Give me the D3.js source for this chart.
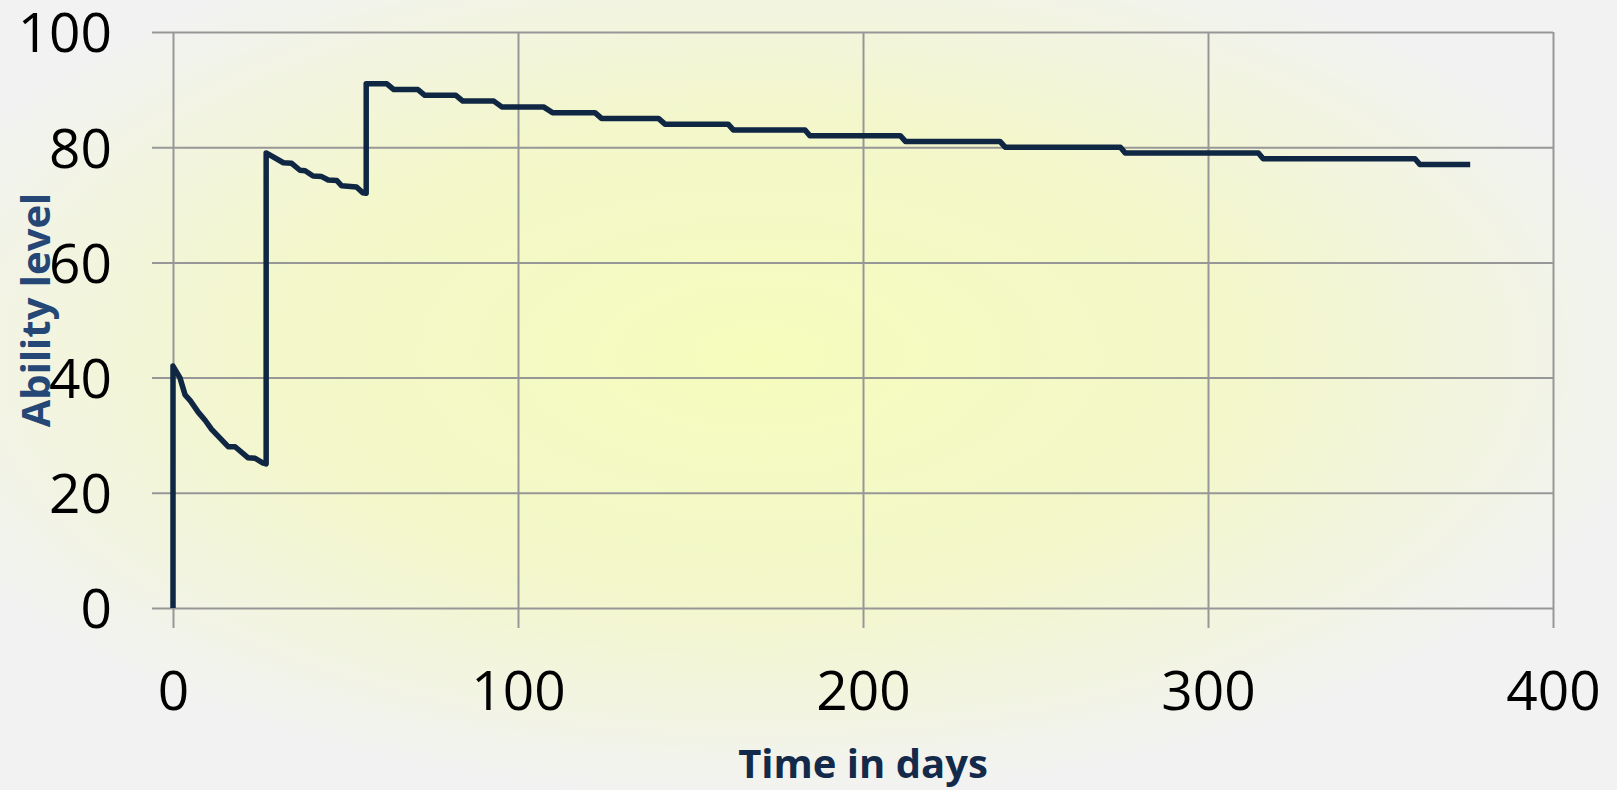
<!DOCTYPE html>
<html>
<head>
<meta charset="utf-8">
<script src="https://cdn.jsdelivr.net/npm/d3@7"></script>
<style>
  html, body { margin: 0; padding: 0; background: #f2f2f2; }
  svg { display: block; }
</style>
</head>
<body>
<div id="chart"></div>
<script>
// Data
const days = [0, 0, 2, 3.5, 5, 7.3, 9.3, 11.2, 16, 18, 21.7, 23.8, 26, 27,
  27, 32, 34.4, 36.8, 38.3, 40.6, 43.1, 45, 47.5, 48.9, 53.2, 55, 56,
  56, 62, 64, 71, 73, 82, 84, 93, 95.3, 107.4, 110, 122.3, 124.2, 140.7, 142.6,
  160.9, 162.4, 183.2, 184.6, 210.8, 212.3, 239.7, 241.2, 274.6, 276,
  314.6, 316, 360, 361.4, 376];
const ability = [0, 42, 40, 37, 36, 34, 32.6, 31, 28, 28, 26.1, 26, 25.2, 25,
  79, 77.3, 77.2, 76, 75.9, 75, 74.9, 74.3, 74.2, 73.3, 73.1, 72.1, 72,
  91, 91, 90, 90, 89, 89, 88, 88, 87, 87, 86, 86, 85, 85, 84,
  84, 83, 83, 82, 82, 81, 81, 80, 80, 79,
  79, 78, 78, 77, 77];
const xTicks = [0, 100, 200, 300, 400];
const yTicks = [0, 20, 40, 60, 80, 100];

const points = days.map((d, i) => ({day: d, value: ability[i]}));

const W = 1617, H = 790;
const margin = {top: 32, right: 64, bottom: 182, left: 173};
const width = W - margin.left - margin.right,
      height = H - margin.top - margin.bottom;

const svg = d3.select("#chart")
  .append("svg")
    .attr("width", W)
    .attr("height", H);

// Background radial gradient
const grad = svg.append("defs").append("radialGradient")
    .attr("id", "bg")
    .attr("cx", 0.47).attr("cy", 0.45).attr("r", 0.56);
grad.append("stop").attr("offset", "0%").attr("stop-color", "#f5fcbc");
grad.append("stop").attr("offset", "55%").attr("stop-color", "#f3f7cb");
grad.append("stop").attr("offset", "100%").attr("stop-color", "#f2f2f2");

svg.append("rect")
    .attr("width", W).attr("height", H)
    .attr("fill", "url(#bg)");

const g = svg.append("g")
    .attr("transform", `translate(${margin.left},${margin.top})`);

const x = d3.scaleLinear().domain([0, 400]).range([0, width]);
const y = d3.scaleLinear().domain([0, 100]).range([height, 0]);

// Axis titles (drawn first so tick labels sit on top)
g.append("text")
    .attr("text-anchor", "middle")
    .attr("transform", "rotate(-90)")
    .attr("x", -(310 - margin.top))
    .attr("y", 50 - margin.left)
    .style("font-family", "'Open Sans', sans-serif")
    .style("font-weight", "bold")
    .style("font-size", "40px")
    .attr("fill", "#254775")
    .text("Ability level");

g.append("text")
    .attr("text-anchor", "middle")
    .attr("x", width / 2)
    .attr("y", 778 - margin.top)
    .style("font-family", "'Open Sans', sans-serif")
    .style("font-weight", "bold")
    .style("font-size", "40px")
    .attr("fill", "#132a4b")
    .text("Time in days");

// Horizontal gridlines + y ticks
const yAxis = g.append("g")
    .call(d3.axisLeft(y).tickValues(yTicks).tickSizeOuter(0));
yAxis.select(".domain").remove();
yAxis.selectAll(".tick line")
    .attr("x1", -21).attr("x2", width)
    .attr("stroke", "#979797").attr("stroke-width", 2);
yAxis.selectAll(".tick text")
    .attr("x", -61)
    .attr("dy", "0.36em")
    .style("font-family", "'Open Sans', sans-serif")
    .style("font-size", "55px")
    .attr("fill", "#000");

// Vertical gridlines + x ticks
const xAxis = g.append("g")
    .attr("transform", `translate(0,${height})`)
    .call(d3.axisBottom(x).tickValues(xTicks).tickSizeOuter(0));
xAxis.select(".domain").remove();
xAxis.selectAll(".tick line")
    .attr("y1", -height).attr("y2", 20)
    .attr("stroke", "#979797").attr("stroke-width", 2);
xAxis.selectAll(".tick text")
    .attr("y", 710 - margin.top - height)
    .attr("dy", 0)
    .style("font-family", "'Open Sans', sans-serif")
    .style("font-size", "55px")
    .attr("fill", "#000");

// Series line
g.append("path")
    .datum(points)
    .attr("fill", "none")
    .attr("stroke", "#0f2742")
    .attr("stroke-width", 5.5)
    .attr("stroke-linejoin", "round")
    .attr("d", d3.line()
      .x(d => x(d.day))
      .y(d => y(d.value)));
</script>
</body>
</html>
